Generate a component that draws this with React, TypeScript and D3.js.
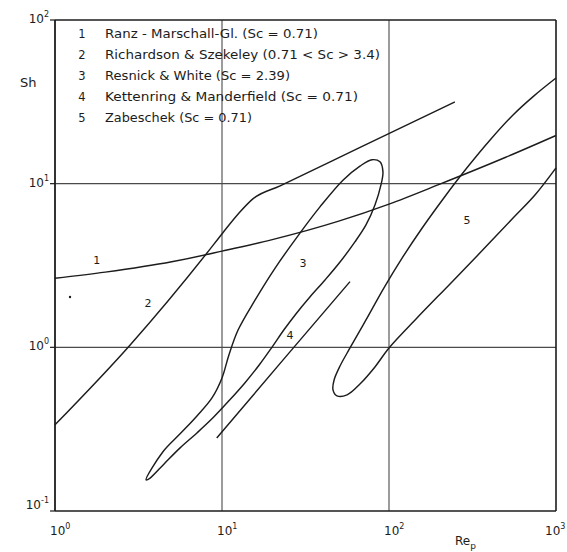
import React from "react";
import * as d3 from "d3";

const W = 567;
const H = 552;
const plot = { left: 55, right: 556, top: 20, bottom: 511 };

// axes
const xDecades = [1, 10, 100, 1000];
const xExponents = ["0", "1", "2", "3"];
const yDecades = [0.1, 1, 10, 100];
const yExponents = ["-1", "0", "1", "2"];
const xGrid = [10, 100];
const yGrid = [1, 10];

// legend
const legendNumbers = ["1", "2", "3", "4", "5"];
const legendTexts = [
  "Ranz - Marschall-Gl. (Sc = 0.71)",
  "Richardson  &  Szekeley (0.71 < Sc > 3.4)",
  "Resnick & White (Sc = 2.39)",
  "Kettenring & Manderfield (Sc = 0.71)",
  "Zabeschek (Sc = 0.71)",
];
const legendWidths = [213, 275, 185, 253, 147];

// 1 Ranz-Marshall
const ranzRe = [1, 2, 5, 10, 20, 50, 100, 200, 500, 1000];
const ranzSh = [2.64, 2.88, 3.33, 3.87, 4.55, 5.9, 7.5, 9.9, 14.5, 19.7];

// 2 Richardson & Szekeley
const richRe = [1, 2.81, 8.13, 10.1, 12.8, 15.3, 22.3, 64.3, 248];
const richSh = [0.336, 1.03, 3.77, 5.0, 6.71, 8.07, 9.7, 16.3, 31.6];

// 3 Resnick & White (closed loop)
const resRe = [3.51, 4.43, 5.61, 7.08, 8.71, 10.0, 11.0, 12.5, 15.8, 20.8, 28.5, 38.6, 53.0, 67.0, 79.1, 88.3, 92.0,
  89.5, 82.4, 72.8, 62.5, 50.9, 41.4, 33.6, 27.7, 23.5, 19.9, 16.7, 13.7, 11.0, 8.83, 7.08, 5.61, 4.5, 3.71];
const resSh = [0.155, 0.23, 0.296, 0.381, 0.491, 0.65, 0.899, 1.28, 1.95, 3.05, 4.8, 7.21, 10.5, 12.8, 14.0, 13.6, 11.8,
  9.82, 7.41, 5.6, 4.41, 3.32, 2.58, 2.03, 1.6, 1.28, 1.0, 0.78, 0.606, 0.471, 0.371, 0.3, 0.243, 0.194, 0.159];

// 4 Kettenring & Manderfield
const ketRe = [9.3, 23.5, 58.4];
const ketSh = [0.279, 0.85, 2.52];

// 5 Zabeschek (open loop)
const zabRe = [1000, 738, 553, 403, 293, 213, 158, 120, 93.3, 72.8, 58.4, 50.9, 46.9, 46.2,
  48.8, 56.1, 67.0, 82.4, 100, 147, 232, 365, 553, 748, 1000];
const zabSh = [44.2, 34.4, 26.3, 18.5, 12.5, 8.18, 5.36, 3.52, 2.31, 1.47, 0.991, 0.769, 0.632, 0.55,
  0.505, 0.512, 0.597, 0.759, 0.991, 1.51, 2.44, 3.94, 6.17, 8.53, 12.5];

// curve number labels
const curveLabels = ["1", "2", "3", "4", "5"];
const curveLabelRe = [1.78, 3.6, 30.5, 25.5, 293];
const curveLabelSh = [3.42, 1.87, 3.28, 1.19, 6.0];

// stray mark
const dotRe = [1.23];
const dotSh = [2.03];

const FONT = "'DejaVu Sans', 'Liberation Sans', sans-serif";
const INK = "#1c1c1c";

export default function App() {
  const x = d3.scaleLog().domain([1, 1000]).range([plot.left, plot.right]);
  const y = d3.scaleLog().domain([0.1, 100]).range([plot.bottom, plot.top]);

  const zip = (a: number[], b: number[]) => a.map((v, i) => [v, b[i]] as [number, number]);

  const lineMono = d3.line<[number, number]>().x((d) => x(d[0])).y((d) => y(d[1])).curve(d3.curveMonotoneX);
  const lineCR = d3.line<[number, number]>().x((d) => x(d[0])).y((d) => y(d[1])).curve(d3.curveCatmullRom.alpha(0.5));
  const lineClosed = d3
    .line<[number, number]>()
    .x((d) => x(d[0]))
    .y((d) => y(d[1]))
    .curve(d3.curveCatmullRomClosed.alpha(0.5));
  const lineStraight = d3.line<[number, number]>().x((d) => x(d[0])).y((d) => y(d[1]));

  const curveStyle = { fill: "none", stroke: INK, strokeWidth: 1.45, strokeLinejoin: "round" as const };

  return (
    <svg
      width={W}
      height={H}
      viewBox={`0 0 ${W} ${H}`}
      style={{ position: "absolute", left: 0, top: 0, background: "#fff" }}
    >
      <rect x={0} y={0} width={W} height={H} fill="#fff" />

      {/* gridlines */}
      {xGrid.map((g) => (
        <line key={"xg" + g} x1={x(g)} x2={x(g)} y1={plot.top} y2={plot.bottom} stroke="#4a4a4a" strokeWidth={1.1} />
      ))}
      {yGrid.map((g) => (
        <line key={"yg" + g} x1={plot.left} x2={plot.right} y1={y(g)} y2={y(g)} stroke="#4a4a4a" strokeWidth={1.1} />
      ))}

      {/* frame */}
      <line x1={plot.left} x2={plot.right} y1={plot.top} y2={plot.top} stroke={INK} strokeWidth={1.6} />
      <line x1={plot.left} x2={plot.right} y1={plot.bottom} y2={plot.bottom} stroke={INK} strokeWidth={1.6} />
      <line x1={plot.left} x2={plot.left} y1={plot.top} y2={plot.bottom} stroke={INK} strokeWidth={1.8} />
      <line x1={plot.right} x2={plot.right} y1={plot.top} y2={plot.bottom} stroke={INK} strokeWidth={1.6} />

      {/* y ticks and labels */}
      {yDecades.map((v, i) => (
        <g key={"yt" + v}>
          <line x1={plot.left - 5} x2={plot.left} y1={y(v)} y2={y(v)} stroke={INK} strokeWidth={1.2} />
          <text
            x={plot.left - 6}
            y={y(v) + (v === 0.1 ? -2 : 3)}
            textAnchor="end"
            fontFamily={FONT}
            fontSize={12}
            fill={INK}
          >
            10
            <tspan dy={-6} fontSize={8}>
              {yExponents[i]}
            </tspan>
          </text>
        </g>
      ))}

      {/* x labels */}
      {xDecades.map((v, i) => (
        <text key={"xt" + v} x={Math.min(x(v) - 5, W - 22)} y={535} fontFamily={FONT} fontSize={12} fill={INK}>
          10
          <tspan dy={-6} fontSize={8}>
            {xExponents[i]}
          </tspan>
        </text>
      ))}

      {/* axis titles */}
      <text x={20} y={87} fontFamily={FONT} fontSize={13} fill={INK}>
        Sh
      </text>
      <text x={455} y={545} fontFamily={FONT} fontSize={12} fill={INK}>
        Re
        <tspan dy={4} fontSize={9}>
          p
        </tspan>
      </text>

      {/* legend */}
      {legendTexts.map((t, i) => (
        <g key={"lg" + i}>
          <text x={82} y={33 + i * 21 + 4.5} textAnchor="middle" fontFamily={FONT} fontSize={11.5} fill={INK}>
            {legendNumbers[i]}
          </text>
          <text
            x={105}
            y={33 + i * 21 + 4.5}
            fontFamily={FONT}
            fontSize={11.5}
            fill={INK}
            textLength={legendWidths[i]}
            lengthAdjust="spacingAndGlyphs"
          >
            {t}
          </text>
        </g>
      ))}

      {/* curves */}
      <path d={lineMono(zip(ranzRe, ranzSh)) || ""} {...curveStyle} />
      <path d={lineMono(zip(richRe, richSh)) || ""} {...curveStyle} />
      <path d={lineClosed(zip(resRe, resSh)) || ""} {...curveStyle} />
      <path d={lineStraight(zip(ketRe, ketSh)) || ""} {...curveStyle} />
      <path d={lineCR(zip(zabRe, zabSh)) || ""} {...curveStyle} />

      {/* curve labels */}
      {curveLabels.map((l, i) => (
        <text
          key={"cl" + l}
          x={x(curveLabelRe[i])}
          y={y(curveLabelSh[i]) + 4}
          textAnchor="middle"
          fontFamily={FONT}
          fontSize={11}
          fill={INK}
        >
          {l}
        </text>
      ))}

      {dotRe.map((d, i) => (
        <circle key={"dot" + i} cx={x(d)} cy={y(dotSh[i])} r={1.2} fill={INK} />
      ))}
    </svg>
  );
}
